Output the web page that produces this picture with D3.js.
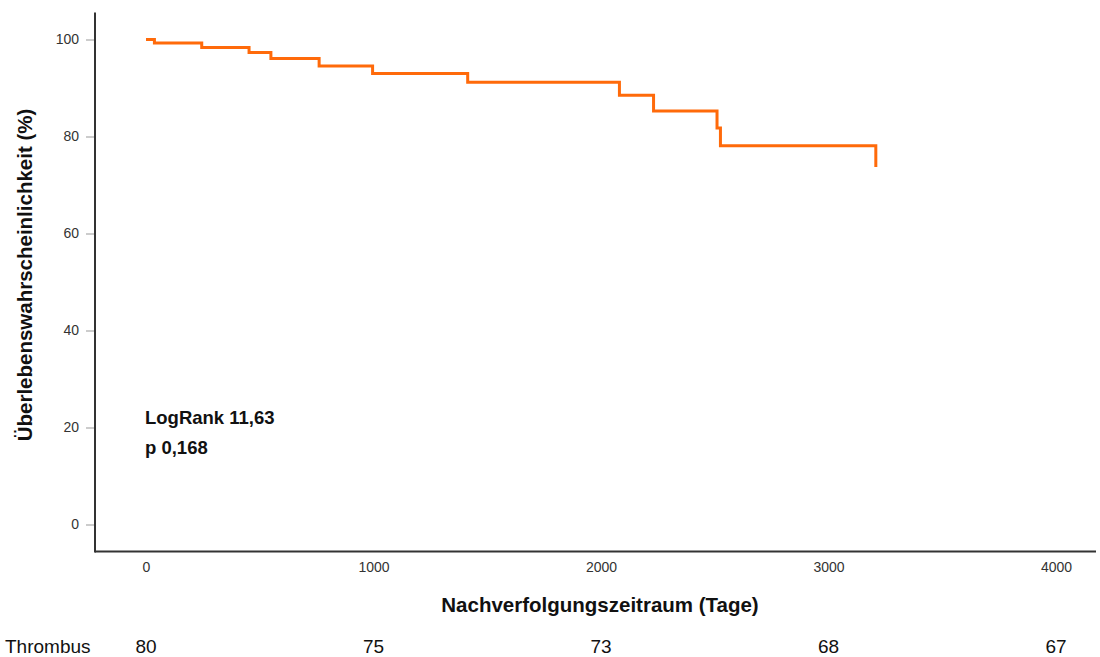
<!DOCTYPE html>
<html>
<head>
<meta charset="utf-8">
<script src="https://cdn.jsdelivr.net/npm/d3@7"></script>
<style>
  body { margin: 0; background: #fff; }
  svg { font-family: "Liberation Sans", Arial, sans-serif; }
  .tick text { fill: #333; font-size: 14px; }
  .tick line { stroke: #999; }
  .axis-label { font-weight: bold; font-size: 20.5px; fill: #111; }
</style>
</head>
<body>
<div id="chart"></div>
<script>
// Kaplan-Meier step points (days, survival %)
const times = [0, 37, 245, 453, 549, 761, 996, 1414, 2081, 2231, 2510, 2525, 3208];
const survival = [100, 99.3, 98.35, 97.3, 96.1, 94.55, 93.0, 91.2, 88.5, 85.25, 81.75, 78.1, 73.7];

const xTicks = [0, 1000, 2000, 3000, 4000];
const yTicks = [0, 20, 40, 60, 80, 100];

// number at risk
const riskGroup = 'Thrombus';
const riskTimes = [0, 1000, 2000, 3000, 4000];
const riskCounts = [80, 75, 73, 68, 67];

const statLines = ['LogRank 11,63', 'p 0,168'];

class KMPlot {
    constructor() {
        this.width = 1100;
        this.height = 657;
        this.axisLeftX = 95;
        this.axisBottomY = 551.5;
        this.drawPlot();
    }

    drawPlot() {
        this.svg = d3.select('#chart')
            .append('svg')
            .attr('width', this.width)
            .attr('height', this.height);

        let x = d3.scaleLinear().domain([0, 4000]).range([146, 1056]);
        let y = d3.scaleLinear().domain([0, 100]).range([524.5, 39.5]);

        // y axis
        let yAxis = this.svg.append('g')
            .attr('transform', 'translate(' + this.axisLeftX + ',0)')
            .call(d3.axisLeft(y).tickValues(yTicks).tickSize(9).tickPadding(7));
        yAxis.select('.domain').remove();

        // x axis (labels only)
        let xAxis = this.svg.append('g')
            .attr('transform', 'translate(0,' + this.axisBottomY + ')')
            .call(d3.axisBottom(x).tickValues(xTicks).tickSize(0).tickPadding(11).tickFormat(d3.format('d')));
        xAxis.select('.domain').remove();

        // axis lines
        this.svg.append('line')
            .attr('x1', this.axisLeftX).attr('x2', this.axisLeftX)
            .attr('y1', 12.5).attr('y2', this.axisBottomY + 1)
            .attr('stroke', '#333').attr('stroke-width', 2);
        this.svg.append('line')
            .attr('x1', this.axisLeftX).attr('x2', 1096)
            .attr('y1', this.axisBottomY).attr('y2', this.axisBottomY)
            .attr('stroke', '#333').attr('stroke-width', 2);

        // survival curve
        let pts = times.map((t, i) => [t, survival[i]]);
        let line = d3.line()
            .x(d => x(d[0]))
            .y(d => y(d[1]))
            .curve(d3.curveStepAfter);
        this.svg.append('path')
            .datum(pts)
            .attr('d', line)
            .attr('fill', 'none')
            .attr('stroke', '#ff6a0a')
            .attr('stroke-width', 3);

        // stats text
        this.svg.selectAll('.stat')
            .data(statLines)
            .enter().append('text')
            .attr('class', 'stat')
            .attr('x', 145)
            .attr('y', (d, i) => 424 + i * 29.5)
            .attr('font-size', '18.5px')
            .attr('font-weight', 'bold')
            .attr('fill', '#111')
            .text(d => d);

        // axis titles
        this.svg.append('text')
            .attr('class', 'axis-label')
            .attr('text-anchor', 'middle')
            .attr('x', 600).attr('y', 612)
            .text('Nachverfolgungszeitraum (Tage)');
        this.svg.append('text')
            .attr('class', 'axis-label')
            .attr('text-anchor', 'middle')
            .attr('transform', 'translate(32,275) rotate(-90)')
            .text('Überlebenswahrscheinlichkeit (%)');

        // number at risk
        this.svg.append('text')
            .attr('x', 5).attr('y', 653)
            .attr('font-size', '19px')
            .attr('fill', '#111')
            .text(riskGroup);
        this.svg.selectAll('.risk')
            .data(riskCounts)
            .enter().append('text')
            .attr('class', 'risk')
            .attr('x', (d, i) => x(riskTimes[i]))
            .attr('y', 653)
            .attr('text-anchor', 'middle')
            .attr('font-size', '19px')
            .attr('fill', '#111')
            .text(d => d);
    }
}

new KMPlot();
</script>
</body>
</html>
